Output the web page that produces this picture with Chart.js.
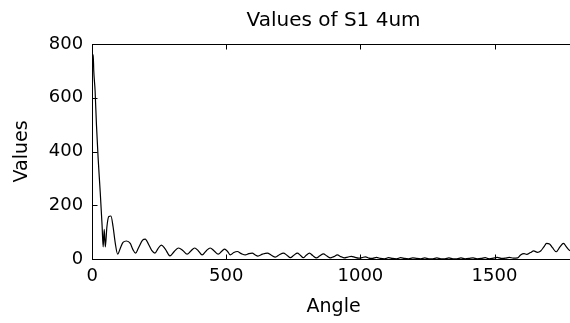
<!DOCTYPE html>
<html>
<head>
<meta charset="utf-8">
<script src="https://cdn.jsdelivr.net/npm/chart.js@4/dist/chart.umd.min.js"></script>
<style>
  html, body { margin: 0; padding: 0; background: #fff; overflow: hidden; }
  #wrap { width: 575px; height: 323px; }
</style>
</head>
<body>
<div id="wrap"><canvas id="chart"></canvas></div>
<script>
// S1 values vs angle
const angles = [
  0, 4, 6, 11, 16, 22, 30, 37, 41, 45, 49, 55, 62, 70, 78, 86, 95, 105, 115, 128,
  142, 152, 162, 172, 188, 198, 210, 222, 234, 245, 258, 272, 290, 306, 322, 338,
  354, 368, 382, 396, 410, 425, 440, 455, 470, 484, 494, 505, 515, 528, 541, 556,
  571, 584, 597, 607, 618, 635, 653, 668, 683, 698, 713, 726, 739, 752, 765, 776,
  787, 798, 810, 822, 836, 849, 862, 875, 888, 901, 914, 927, 940, 953, 966, 980,
  993, 1006, 1019, 1032, 1045, 1060, 1075, 1090, 1105, 1120, 1135, 1150, 1165,
  1180, 1195, 1210, 1225, 1240, 1255, 1270, 1285, 1300, 1315, 1330, 1345, 1360,
  1375, 1390, 1405, 1420, 1435, 1450, 1465, 1480, 1495, 1510, 1525, 1540, 1555,
  1570, 1586, 1597, 1610, 1620, 1634, 1646, 1660, 1672, 1684, 1694, 1705, 1716,
  1730, 1744, 1757, 1768, 1776, 1790, 1800,
];
const values = [
  760, 760, 700, 625, 500, 380, 250, 125, 45, 110, 45, 120, 158, 160, 120, 60, 18, 40, 62, 67,
  58, 35, 22, 40, 70, 74, 55, 32, 22, 38, 52, 38, 12, 28, 41, 32,
  18, 30, 41, 30, 15, 30, 41, 30, 18, 30, 37, 28, 15, 24, 28, 20,
  15, 20, 22, 16, 11, 18, 22, 14, 7, 16, 22, 14, 5, 14, 22, 14,
  5, 14, 22, 13, 4, 12, 19, 11, 4, 9, 15, 9, 4, 7, 10, 6,
  3, 5, 8, 3, 2, 6, 2, 1, 5, 2, 1, 5, 2,
  1, 4, 2, 1, 4, 1, 1, 4, 1, 1, 4, 1, 1,
  4, 1, 2, 4, 1, 2, 5, 1, 3, 6, 2, 3, 6,
  3, 4, 15, 20, 17, 24, 30, 25, 30, 45, 58, 56, 42,
  27, 45, 58, 45, 35, 28, 25,
];
const xTicks = [0, 500, 1000, 1500];
const yTicks = [0, 200, 400, 600, 800];

const FONT = "'DejaVu Sans', sans-serif";

// MATLAB style box with inward tick marks
const boxPlugin = {
  id: "box",
  afterDraw(chart) {
    const { ctx, chartArea: a, scales } = chart;
    const l = Math.round(a.left) + 0.5;
    const r = Math.round(a.right) + 0.5;
    const t = Math.round(a.top) + 0.5;
    const b = Math.round(a.bottom) + 0.5;
    ctx.save();
    ctx.strokeStyle = "#000";
    ctx.lineWidth = 1;
    ctx.strokeRect(l, t, r - l, b - t);
    ctx.beginPath();
    xTicks.forEach((v) => {
      const px = Math.round(scales.x.getPixelForValue(v)) + 0.5;
      ctx.moveTo(px, b); ctx.lineTo(px, b - 5);
      ctx.moveTo(px, t); ctx.lineTo(px, t + 5);
    });
    yTicks.forEach((v) => {
      const py = Math.round(scales.y.getPixelForValue(v)) + 0.5;
      ctx.moveTo(l, py); ctx.lineTo(l + 5, py);
      ctx.moveTo(r, py); ctx.lineTo(r - 5, py);
    });
    ctx.stroke();
    ctx.restore();
  },
};

new Chart(document.getElementById("chart"), {
  type: "line",
  data: {
    datasets: [
      {
        label: "S1 4um",
        data: angles.map((a, i) => ({ x: a, y: values[i] })),
        borderColor: "#000",
        borderWidth: 1.2,
        pointRadius: 0,
        fill: false,
        cubicInterpolationMode: "monotone",
      },
    ],
  },
  options: {
    responsive: true,
    maintainAspectRatio: false,
    animation: false,
    layout: { padding: 0 },
    plugins: {
      legend: { display: false },
      tooltip: { enabled: false },
      title: {
        display: true,
        fullSize: false,
        text: "Values of S1 4um",
        color: "#000",
        font: { family: FONT, size: 20, weight: "normal", lineHeight: 1 },
        padding: { top: 10.5, bottom: 13.5 },
      },
    },
    scales: {
      x: {
        type: "linear",
        min: 0,
        max: 1800,
        afterBuildTicks: (s) => { s.ticks = xTicks.map((v) => ({ value: v })); },
        grid: { display: false, drawTicks: false },
        border: { display: false },
        ticks: {
          color: "#000",
          padding: 8,
          maxRotation: 0,
          font: { family: FONT, size: 18, lineHeight: 1 },
          callback: (v) => String(v),
        },
        title: {
          display: true,
          text: "Angle",
          color: "#000",
          font: { family: FONT, size: 19, lineHeight: 1 },
          padding: { top: 5, bottom: 6 },
        },
      },
      y: {
        min: 0,
        max: 800,
        afterBuildTicks: (s) => { s.ticks = yTicks.map((v) => ({ value: v })); },
        grid: { display: false, drawTicks: false },
        border: { display: false },
        ticks: {
          color: "#000",
          padding: 9,
          font: { family: FONT, size: 18 },
          callback: (v) => String(v),
        },
        title: {
          display: true,
          text: "Values",
          color: "#000",
          font: { family: FONT, size: 19, lineHeight: 1 },
          padding: { top: 13, bottom: 7.8 },
        },
      },
    },
  },
  plugins: [boxPlugin],
});
</script>
</body>
</html>
